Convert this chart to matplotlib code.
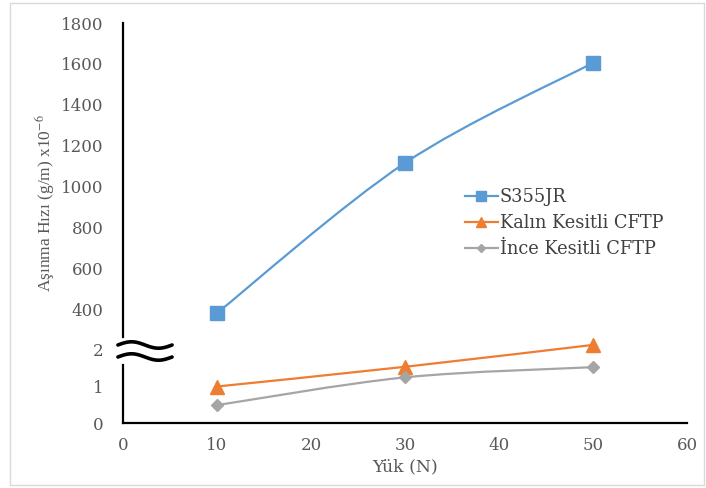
import numpy as np
import matplotlib.pyplot as plt
from matplotlib.path import Path
from matplotlib.patches import PathPatch, Rectangle
from matplotlib.lines import Line2D

plt.rcParams['mathtext.fontset'] = 'stix'

# data
yuk = [10, 30, 50]
s355jr = [380, 1115, 1605]
kalin = [1.0, 1.54, 2.14]
ince = [0.49, 1.25, 1.53]
labels = ['S355JR', 'Kalın Kesitli CFTP', 'İnce Kesitli CFTP']
colors = ['#5B9BD5', '#ED7D31', '#A5A5A5']
markers = ['s', '^', 'D']
y_ticks = [0, 1, 2, 400, 600, 800, 1000, 1200, 1400, 1600, 1800]
x_ticks = [0, 10, 20, 30, 40, 50, 60]

# broken y axis: 0-2.5 in the lower part, 300-1800 in the upper part
v_pts = [0, 2.5, 300, 1800]
h_pts = [0, 91.25, 93.57, 400]


def fwd(v):
    return np.interp(v, v_pts, h_pts)


def inv(h):
    return np.interp(h, h_pts, v_pts)


def smooth_path(x, y):
    # excel-like smoothed line (bezier through the points)
    pts = np.column_stack([x, y]).astype(float)
    ext = np.vstack([pts[0], pts, pts[-1]])
    verts = [pts[0]]
    codes = [Path.MOVETO]
    for i in range(len(pts) - 1):
        p0, p1, p2, p3 = ext[i], ext[i + 1], ext[i + 2], ext[i + 3]
        verts += [p1 + (p2 - p0) / 6, p2 - (p3 - p1) / 6, p2]
        codes += [Path.CURVE4] * 3
    return Path(verts, codes)


fig = plt.figure(figsize=(7.06, 4.88), dpi=100)
ax = fig.add_axes([123 / 706, 65 / 488, 564 / 706, 400 / 488])
ax.set_yscale('function', functions=(fwd, inv))
ax.set_xlim(0, 60)
ax.set_ylim(0, 1800)

series = [s355jr, kalin, ince]
msizes = [10, 10.5, 6.5]
handles = []
for vals, c, m, ms, lab in zip(series, colors, markers, msizes, labels):
    ax.add_patch(PathPatch(smooth_path(yuk, vals), facecolor='none',
                           edgecolor=c, lw=1.6, zorder=2))
    ax.plot(yuk, vals, ls='none', marker=m, ms=ms, color=c, zorder=3)
    handles.append(Line2D([], [], color=c, lw=1.6, marker=m, ms=ms * 0.7))

# axes look
for s in ['top', 'right', 'left']:
    ax.spines[s].set_visible(False)
ax.spines['bottom'].set_linewidth(1.6)
ax.axvline(0, ymin=0, ymax=0.145, color='black', lw=1.6, clip_on=False)
ax.axvline(0, ymin=0.215, ymax=1, color='black', lw=1.6, clip_on=False)

# break marks
t = np.linspace(0, 1, 60)
bx = -0.009 + t * 0.096
for yc in [0.195, 0.165]:
    ax.plot(bx, yc + 0.008 * np.sin(2 * np.pi * t), color='black', lw=2.6,
            transform=ax.transAxes, clip_on=False, solid_capstyle='round')

ax.set_yticks(y_ticks)
ax.set_yticklabels([str(v) for v in y_ticks])
ax.set_xticks(x_ticks)
ax.tick_params(length=0, labelcolor='#595959', labelsize=12)
ax.tick_params(axis='y', pad=14)
ax.tick_params(axis='x', pad=10)
for lbl in ax.get_xticklabels() + ax.get_yticklabels():
    lbl.set_fontfamily('DejaVu Serif')

fig.text(405 / 706, 1 - 467 / 488, 'Yük (N)', ha='center', va='center',
         fontsize=12.5, color='#595959', family='DejaVu Serif')
fig.text(45 / 706, 1 - 203 / 488, r'Aşınma Hızı (g/m) x10$^{-6}$', rotation=90,
         ha='center', va='center', fontsize=12.5, color='#595959',
         family='Liberation Serif')

ax.legend(handles, labels, loc='upper left', bbox_to_anchor=(465 / 706, 1 - 188 / 488),
          bbox_transform=fig.transFigure, frameon=False, handlelength=1.85,
          handletextpad=0.1, labelspacing=0.45, borderpad=0, borderaxespad=0,
          prop={'family': 'DejaVu Serif', 'size': 12.8}, labelcolor='#404040')

fig.patches.append(Rectangle((10 / 706, 3 / 488), 694 / 706, 482 / 488,
                             transform=fig.transFigure, fill=False,
                             edgecolor='#D9D9D9', lw=1))

plt.savefig('out.png', dpi=100)
